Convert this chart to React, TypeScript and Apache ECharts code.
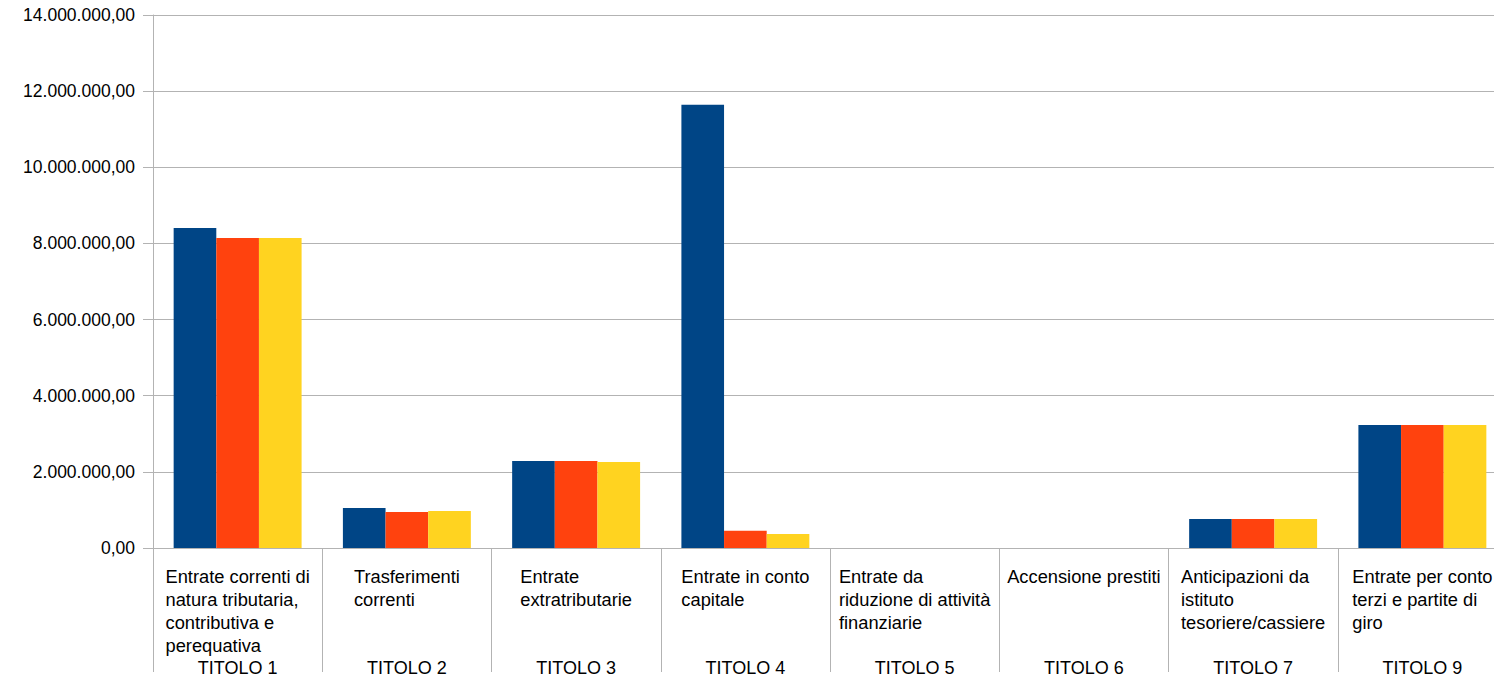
import React, { useEffect, useRef } from "react";
import * as echarts from "echarts";

const descriptions = [
  "Entrate correnti di\nnatura tributaria,\ncontributiva e\nperequativa",
  "Trasferimenti\ncorrenti",
  "Entrate\nextratributarie",
  "Entrate in conto\ncapitale",
  "Entrate da\nriduzione di attività\nfinanziarie",
  "Accensione prestiti",
  "Anticipazioni da\nistituto\ntesoriere/cassiere",
  "Entrate per conto\nterzi e partite di\ngiro",
];
const titoli = ["TITOLO 1", "TITOLO 2", "TITOLO 3", "TITOLO 4", "TITOLO 5", "TITOLO 6", "TITOLO 7", "TITOLO 9"];

const serie1 = [8405000, 1050000, 2285000, 11640000, 0, 0, 760000, 3230000];
const serie2 = [8140000, 945000, 2285000, 455000, 0, 0, 760000, 3230000];
const serie3 = [8140000, 970000, 2260000, 370000, 0, 0, 760000, 3230000];

const colors = ["#004586", "#ff420e", "#ffd320"];
const yMin = 0;
const yMax = 14000000;
const yStep = 2000000;

function fmtIt(v: number): string {
  const s = Math.round(v).toString();
  const grouped = s.replace(/\B(?=(\d{3})+(?!\d))/g, ".");
  return grouped + ",00";
}

export default function App() {
  const ref = useRef<HTMLDivElement>(null);
  useEffect(() => {
    if (!ref.current) return;
    const chart = echarts.init(ref.current, null, { renderer: "svg" });
    const font = "'Liberation Sans', Arial, sans-serif";
    const grey = "#b3b3b3";
    chart.setOption({
      animation: false,
      textStyle: { fontFamily: font },
      grid: { left: 153, top: 15, right: -13, bottom: 132, containLabel: false, outerBoundsMode: "none" },
      xAxis: [
        {
          type: "category",
          data: descriptions,
          position: "bottom",
          axisLine: { show: true, lineStyle: { color: grey, width: 1 } },
          axisTick: { show: true, length: 124, lineStyle: { color: grey, width: 1 } },
          splitLine: { show: false },
          axisLabel: {
            interval: 0,
            margin: 17,
            align: "center",
            verticalAlign: "top",
            formatter: (v: string) => v.split("\n").map((l) => `{a|${l}}`).join("\n"),
            rich: {
              a: { align: "left", fontSize: 18.3, lineHeight: 23, color: "#000", fontFamily: font },
            },
          },
        },
        {
          type: "category",
          data: titoli,
          position: "bottom",
          axisLine: { show: false },
          axisTick: { show: false },
          splitLine: { show: false },
          axisLabel: {
            interval: 0,
            margin: 108,
            fontSize: 18,
            lineHeight: 23,
            color: "#000",
            fontFamily: font,
            verticalAlign: "top",
          },
        },
      ],
      yAxis: {
        type: "value",
        min: yMin,
        max: yMax,
        interval: yStep,
        axisLine: { show: true, lineStyle: { color: grey, width: 1 } },
        axisTick: { show: true, length: 10, lineStyle: { color: grey, width: 1 } },
        splitLine: { show: true, lineStyle: { color: grey, width: 1 } },
        axisLabel: {
          margin: 18,
          fontSize: 17.5,
          color: "#000",
          fontFamily: font,
          formatter: (v: number) => fmtIt(v),
        },
      },
      series: [serie1, serie2, serie3].map((d, i) => ({
        type: "bar",
        data: d,
        xAxisIndex: 0,
        barGap: "0%",
        barCategoryGap: "24.4%",
        itemStyle: { color: colors[i] },
      })),
    });
    return () => chart.dispose();
  }, []);
  return (
    <div
      ref={ref}
      style={{ position: "absolute", left: 0, top: 0, width: 1494, height: 680, background: "#fff" }}
    />
  );
}
